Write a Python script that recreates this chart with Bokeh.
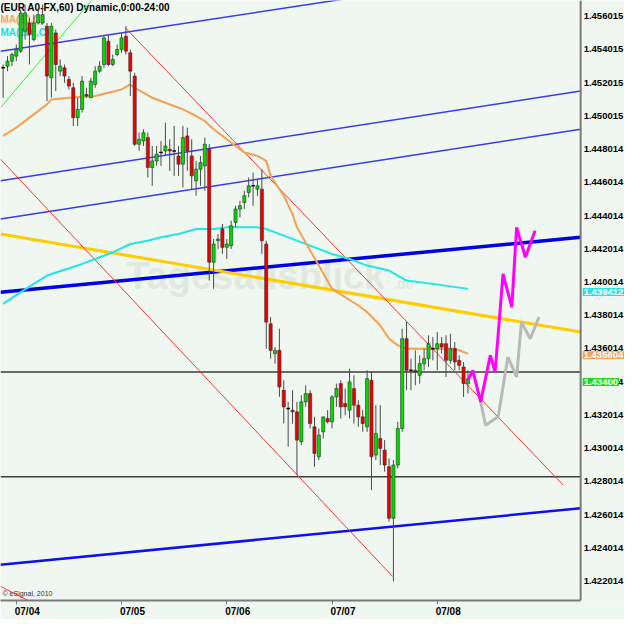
from bokeh.plotting import figure
from bokeh.models import Range1d, FixedTicker, Label
from bokeh.core.properties import value
from bokeh.embed import file_html
from bokeh.resources import INLINE

# ---------------- data ----------------
opens = [1.4529,1.4530,1.4533,1.4536,1.4539,1.4551,1.4556,1.4546,1.4556,1.4556,
         1.4554,1.4523,1.4550,1.4527,1.4529,1.4522,1.4517,1.4499,1.4504,1.4513,
         1.4511,1.4519,1.4527,1.4531,1.4545,1.4531,1.4537,1.4540,1.4548,1.4538,
         1.4524,1.4483,1.4485,1.4487,1.4469,1.4473,1.4478,1.4479,1.4480,1.4479,
         1.4476,1.4471,1.4488,1.4476,1.4461,1.4468,1.4470,1.4480,1.4412,1.4425,
         1.4432,1.4421,1.4422,1.4436,1.4444,1.4448,1.4454,1.4458,1.4456,1.4456,
         1.4423,1.4375,1.4357,1.4359,1.4335,1.4324,1.4323,1.4322,1.4304,1.4328,
         1.4333,1.4313,1.4295,1.4310,1.4318,1.4316,1.4331,1.4339,1.4327,1.4323,
         1.4336,1.4326,1.4319,1.4313,1.4341,1.4296,1.4306,1.4299,1.4289,1.4258,
         1.4290,1.4312,1.4366,1.4347,1.4347,1.4344,1.4351,1.4354,1.4360,1.4360,
         1.4363,1.4363,1.4353,1.4360,1.4353,1.4349,1.4339]
highs = [1.4531,1.4536,1.4538,1.4543,1.4564,1.4567,1.4559,1.4561,1.4565,1.4567,
         1.4556,1.4556,1.4552,1.4534,1.4531,1.4524,1.4520,1.4511,1.4524,1.4517,
         1.4523,1.4530,1.4533,1.4548,1.4549,1.4537,1.4543,1.4550,1.4554,1.4540,
         1.4526,1.4490,1.4492,1.4490,1.4482,1.4482,1.4485,1.4496,1.4486,1.4494,
         1.4482,1.4494,1.4493,1.4486,1.4473,1.4476,1.4487,1.4483,1.4426,1.4429,
         1.4435,1.4426,1.4437,1.4446,1.4449,1.4455,1.4463,1.4466,1.4462,1.4468,
         1.4425,1.4379,1.4361,1.4372,1.4341,1.4328,1.4335,1.4328,1.4332,1.4338,
         1.4335,1.4319,1.4312,1.4319,1.4323,1.4332,1.4339,1.4341,1.4336,1.4348,
         1.4344,1.4329,1.4323,1.4347,1.4346,1.4326,1.4326,1.4305,1.4294,1.4293,
         1.4316,1.4372,1.4376,1.4354,1.4359,1.4356,1.4360,1.4368,1.4367,1.4370,
         1.4367,1.4368,1.4369,1.4364,1.4356,1.4352,1.4347]
lows = [1.4511,1.4527,1.4530,1.4533,1.4538,1.4546,1.4531,1.4545,1.4555,1.4555,
        1.4509,1.4511,1.4515,1.4524,1.4520,1.4516,1.4494,1.4494,1.4502,1.4511,
        1.4511,1.4517,1.4526,1.4529,1.4530,1.4530,1.4536,1.4538,1.4537,1.4512,
        1.4482,1.4479,1.4482,1.4463,1.4458,1.4470,1.4470,1.4476,1.4467,1.4464,
        1.4464,1.4457,1.4467,1.4456,1.4452,1.4458,1.4455,1.4401,1.4396,1.4420,
        1.4417,1.4414,1.4420,1.4433,1.4439,1.4444,1.4451,1.4446,1.4452,1.4417,
        1.4360,1.4354,1.4351,1.4331,1.4315,1.4301,1.4315,1.4284,1.4302,1.4325,
        1.4312,1.4289,1.4293,1.4306,1.4315,1.4312,1.4325,1.4318,1.4320,1.4318,
        1.4315,1.4313,1.4310,1.4310,1.4275,1.4293,1.4290,1.4286,1.4256,1.4220,
        1.4288,1.4310,1.4335,1.4335,1.4338,1.4339,1.4347,1.4349,1.4353,1.4347,
        1.4357,1.4343,1.4351,1.4347,1.4347,1.4331,1.4333]
closes = [1.4529,1.4533,1.4537,1.4540,1.4562,1.4562,1.4549,1.4556,1.4561,1.4561,
          1.4524,1.4554,1.4531,1.4530,1.4524,1.4518,1.4499,1.4504,1.4521,1.4512,
          1.4521,1.4527,1.4530,1.4547,1.4531,1.4534,1.4540,1.4547,1.4539,1.4527,
          1.4483,1.4486,1.4490,1.4469,1.4473,1.4477,1.4478,1.4482,1.4479,1.4479,
          1.4471,1.4487,1.4479,1.4464,1.4468,1.4472,1.4483,1.4412,1.4423,1.4426,
          1.4421,1.4423,1.4434,1.4444,1.4446,1.4452,1.4458,1.4458,1.4458,1.4425,
          1.4376,1.4359,1.4359,1.4337,1.4325,1.4324,1.4322,1.4305,1.4328,1.4333,
          1.4315,1.4297,1.4308,1.4319,1.4316,1.4331,1.4336,1.4325,1.4325,1.4340,
          1.4326,1.4319,1.4315,1.4342,1.4295,1.4309,1.4300,1.4290,1.4258,1.4290,
          1.4312,1.4366,1.4347,1.4347,1.4346,1.4351,1.4354,1.4363,1.4360,1.4363,
          1.4361,1.4353,1.4360,1.4352,1.4350,1.4339,1.4342]
bars = list(range(len(closes)))

ma_fast_x = [0,3,7,10,11,15,21,24,27,29,30,34,37,41,44,46,48,51,53,55,58,60,61,64,66,67,72,75,81,83,86,88,90,92,98,103,106]
ma_fast_y = [1.4488,1.4493,1.4501,1.4507,1.4510,1.4511,1.4512,1.4514,1.4516,1.4519,1.4517,1.4511,1.4508,1.4504,1.4500,1.4497,1.4492,1.4486,1.4482,1.4478,1.4476,1.4473,1.4464,1.4452,1.4441,1.4433,1.4410,1.4396,1.4386,1.4382,1.4374,1.4366,1.4362,1.4360,1.4360,1.4360,1.4357]
ma_slow_x = [0,4,10,18,21,25,29,33,36,40,44,48,51,58,60,64,70,75,79,83,88,92,98,106]
ma_slow_y = [1.4387,1.4394,1.4404,1.4411,1.4414,1.4418,1.4423,1.4425,1.4427,1.4429,1.4432,1.4432,1.4433,1.4433,1.4432,1.4428,1.4422,1.4417,1.4414,1.4410,1.4407,1.4401,1.4399,1.4396]

proj_up_x = [106.0,107.1,108.9,111.1,112.2,114.0,116.0,117.1,119.1,121.3]
proj_up_y = [1.4341,1.4347,1.4328,1.4356,1.4346,1.4405,1.4385,1.4433,1.4415,1.4431]
proj_alt_x = [108.9,110.0,112.9,115.1,117.1,118.2,120.2,122.2]
proj_alt_y = [1.4328,1.4314,1.4319,1.4355,1.4343,1.4376,1.4366,1.4379]

# trend lines: (x0, y0, x1, y1)
blue_thin = [(-0.6, 1.4539, 131.7, 1.4592), (-0.6, 1.4461, 131.7, 1.4515), (-0.6, 1.4438, 131.7, 1.4492)]
blue_thick = (-0.6, 1.4394, 131.7, 1.4427)
blue_low = (-0.6, 1.4230, 131.7, 1.4264)
gold_line = (-0.6, 1.4429, 131.7, 1.4370)
red_lines = [(27.9, 1.4553, 127.7, 1.4278), (-0.6, 1.4474, 88.8, 1.4223), (-0.6, 1.4217, 8.3, 1.4205)]
green_line = (-0.6, 1.4505, 21.9, 1.4575)
levels = [1.4346, 1.4283]

price_ticks = [1.422014,1.424014,1.426014,1.428014,1.430014,1.432014,1.434014,1.436014,1.438014,
               1.440014,1.442014,1.444014,1.446014,1.448014,1.450015,1.452015,1.454015,1.456015]
price_labels = ["%.6f" % v for v in price_ticks]
day_starts = [3, 27, 51, 75, 99]
day_labels = ["07/04", "07/05", "07/06", "07/07", "07/08"]
tags = [(1.439412, "1.439412", "#30dede"), (1.435604, "1.435604", "#f0a45c"), (1.4340, "1.43400", "#1edc1e")]

# ---------------- figure ----------------
X0, X1 = -0.6, 131.7          # X1 = price-axis position
XEND = 141.7                  # room for the price scale
Y0, Y1 = 1.42085, 1.45695
BG = "#f0f7f0"
FONT = "Liberation Sans"
AXC = "#7a7a7a"

p = figure(frame_width=624, frame_height=600, output_backend="svg", toolbar_location=None,
           x_range=Range1d(X0, XEND), y_range=Range1d(Y0, Y1), y_axis_location=None,
           min_border_left=0, min_border_top=0, min_border_right=0, min_border_bottom=0,
           background_fill_color=BG, border_fill_color=BG, outline_line_color=None)
p.grid.visible = False

label_pos = [d + 2.5 for d in day_starts]
xax = p.xaxis[0]
xax.ticker = FixedTicker(ticks=label_pos, minor_ticks=day_starts)
xax.major_label_overrides = dict(zip(label_pos, day_labels))
xax.bounds = (X0, X1)
xax.axis_line_color = AXC
xax.axis_line_width = 2
xax.major_tick_out = 0
xax.major_tick_in = 0
xax.minor_tick_out = 4
xax.minor_tick_in = 0
xax.minor_tick_line_color = AXC
xax.major_label_standoff = 1
xax.major_label_text_font = FONT
xax.major_label_text_font_style = "bold"
xax.major_label_text_font_size = "10px"
xax.major_label_text_color = "black"

# watermark
p.text(x=[57.6], y=[1.4404], text=["Tagesausblick"], text_align="center", text_baseline="middle",
       text_font=value(FONT), text_font_style="bold", text_font_size="38px",
       text_color="#e0e9e0")
p.text(x=[89.0], y=[1.4399], text=[".de"], text_align="left", text_baseline="middle",
       text_font=value(FONT), text_font_style="bold", text_font_size="14px",
       text_color="#e0e9e0")

# header texts
p.text(x=[X0], y=[Y1], text=["(EUR A0-FX,60) Dynamic,0:00-24:00"], x_offset=0, y_offset=1,
       text_baseline="top", text_font=value(FONT), text_font_style="bold", text_font_size="10px",
       text_color="black")
p.text(x=[X0], y=[Y1], text=["MA(20,C)"], y_offset=13, text_baseline="top", text_font=value(FONT),
       text_font_style="bold", text_font_size="10px", text_color="#f0a45c")
p.text(x=[X0], y=[Y1], text=["MA(100,C)"], y_offset=26, text_baseline="top", text_font=value(FONT),
       text_font_style="bold", text_font_size="10px", text_color="#22dddd")
p.text(x=[X0], y=[Y0], text=["\u00a9 eSignal, 2010"], x_offset=2, y_offset=-4, text_baseline="bottom",
       text_font=value(FONT), text_font_size="7px", text_color="#333333")

# horizontal levels
for lv in levels:
    p.line([X0, X1], [lv, lv], line_color="#3c3c3c", line_width=1.5)

# trend lines
for (a, b, c, d) in blue_thin:
    p.line([a, c], [b, d], line_color="#3a3aee", line_width=1.5)
p.line([blue_thick[0], blue_thick[2]], [blue_thick[1], blue_thick[3]], line_color="#0000e6", line_width=3.5)
p.line([blue_low[0], blue_low[2]], [blue_low[1], blue_low[3]], line_color="#1010ee", line_width=2.5)
p.line([gold_line[0], gold_line[2]], [gold_line[1], gold_line[3]], line_color="#ffcc00", line_width=3)
for (a, b, c, d) in red_lines:
    p.line([a, c], [b, d], line_color="#ff3030", line_width=1)
p.line([green_line[0], green_line[2]], [green_line[1], green_line[3]], line_color="#33ee33", line_width=1)

# moving averages
p.line(ma_slow_x, ma_slow_y, line_color="#22e6e6", line_width=2)
p.line(ma_fast_x, ma_fast_y, line_color="#f5a050", line_width=2)

# candles
p.segment(x0=bars, y0=lows, x1=bars, y1=highs, line_color="#4a4a4a", line_width=1)
tops = [max(o, c) for o, c in zip(opens, closes)]
bots = [min(o, c) for o, c in zip(opens, closes)]
cols = ["#00dc00" if c > o else ("#ee0000" if c < o else "#000000") for o, c in zip(opens, closes)]
body_idx = [i for i in bars if opens[i] != closes[i]]
p.vbar(x=[bars[i] for i in body_idx], top=[tops[i] for i in body_idx], bottom=[bots[i] for i in body_idx],
       width=0.72, fill_color=[cols[i] for i in body_idx], line_color="#2e2e2e", line_width=0.6)
doji_idx = [i for i in bars if opens[i] == closes[i]]
p.segment(x0=[bars[i] - 0.4 for i in doji_idx], y0=[opens[i] for i in doji_idx],
          x1=[bars[i] + 0.4 for i in doji_idx], y1=[opens[i] for i in doji_idx],
          line_color="#000000", line_width=1.5)

# projections
p.line(proj_alt_x, proj_alt_y, line_color="#b9b9b9", line_width=3)
p.line(proj_up_x, proj_up_y, line_color="#ff00ff", line_width=3)

# price scale (right side)
p.segment(x0=[X1], y0=[Y0], x1=[X1], y1=[Y1], line_color=AXC, line_width=2)
p.text(x=[X1] * len(price_ticks), y=price_ticks, text=price_labels, x_offset=3,
       text_align="left", text_baseline="middle", text_font=value(FONT),
       text_font_style="bold", text_font_size="9.5px", text_color="black")

# price tags on the scale
for yv, txt, col in tags:
    lab = Label(x=X1, y=yv, text=txt, x_offset=2, text_align="left", text_baseline="middle",
                background_fill_color=col, text_color="white", text_font=FONT,
                text_font_style="bold", text_font_size="9.5px")
    try:
        lab.padding = 1
    except Exception:
        pass
    p.add_layout(lab)

open("out.html", "w").write(file_html(p, INLINE))
